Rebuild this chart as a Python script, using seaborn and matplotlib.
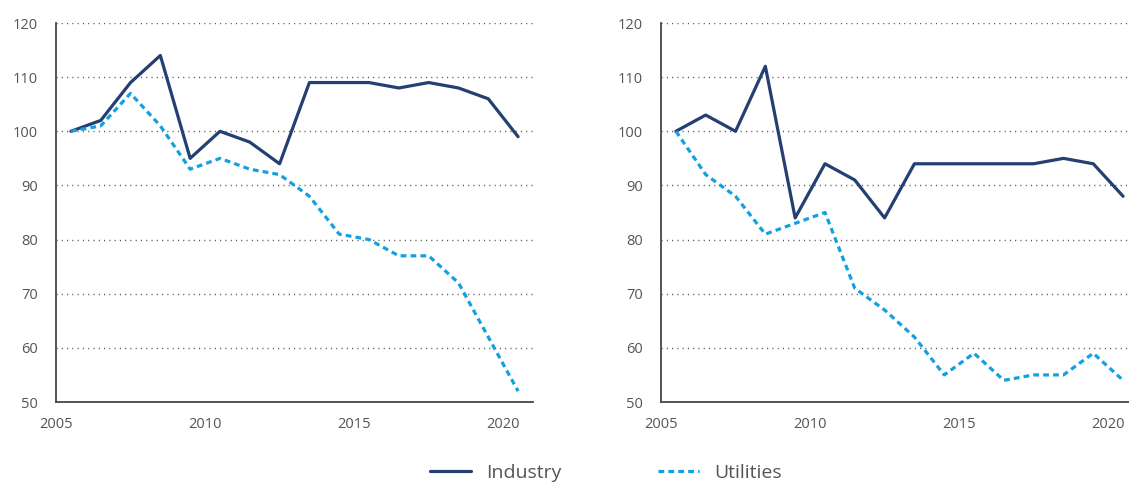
import pandas as pd
import matplotlib.pyplot as plt
import matplotlib.lines as mlines
import seaborn as sns

# Valeurs (indice, 2005 = 100), points à mi-année
years = [2005.5, 2006.5, 2007.5, 2008.5, 2009.5, 2010.5, 2011.5, 2012.5,
         2013.5, 2014.5, 2015.5, 2016.5, 2017.5, 2018.5, 2019.5, 2020.5]

left_industry = [100, 102, 109, 114, 95, 100, 98, 94,
                 109, 109, 109, 108, 109, 108, 106, 99]
left_utilities = [100, 101, 107, 101, 93, 95, 93, 92,
                  88, 81, 80, 77, 77, 72, 62, 52]

right_industry = [100, 103, 100, 112, 84, 94, 91, 84,
                  94, 94, 94, 94, 94, 95, 94, 88]
right_utilities = [100, 92, 88, 81, 83, 85, 71, 67,
                   62, 55, 59, 54, 55, 55, 59, 54]

x_ticks = [2005, 2010, 2015, 2020]
y_ticks = [50, 60, 70, 80, 90, 100, 110, 120]
series_names = ["Industry", "Utilities"]

INDUSTRY_COLOR = "#243f72"
UTILITIES_COLOR = "#12a0e0"
AXIS_COLOR = "#4a463f"
TEXT_COLOR = "#555555"
UTIL_DASH = (0, (1.8, 1.3))


def build_frame(industry, utilities):
    """Construit un tableau long pour un panneau."""
    df = pd.DataFrame({"year": years, "Industry": industry, "Utilities": utilities})
    return df.melt(id_vars="year", var_name="series", value_name="value")


def draw_panel(ax, data):
    """Trace un panneau avec les deux séries."""
    for y in y_ticks[1:]:
        ax.axhline(y, color="#555555", lw=1.0, linestyle=(0, (0.8, 3.0)), zorder=1)

    sns.lineplot(data=data[data["series"] == "Industry"], x="year", y="value",
                 ax=ax, color=INDUSTRY_COLOR, lw=2.3, zorder=3)
    sns.lineplot(data=data[data["series"] == "Utilities"], x="year", y="value",
                 ax=ax, color=UTILITIES_COLOR, lw=2.3, linestyle=UTIL_DASH, zorder=3)

    ax.set_xlim(2005, 2021)
    ax.set_ylim(50, 120)
    ax.set_xticks(x_ticks)
    ax.set_yticks(y_ticks)
    ax.set_xlabel("")
    ax.set_ylabel("")
    for side in ["top", "right"]:
        ax.spines[side].set_visible(False)
    for side in ["left", "bottom"]:
        ax.spines[side].set_color(AXIS_COLOR)
        ax.spines[side].set_linewidth(1.3)
    ax.tick_params(axis="x", direction="in", length=9, width=1.3, color=AXIS_COLOR,
                   labelcolor=TEXT_COLOR, labelsize=10.5, pad=11)
    ax.tick_params(axis="y", direction="out", length=8, width=1.3, color=AXIS_COLOR,
                   labelcolor=TEXT_COLOR, labelsize=10.5, pad=5)
    ax.set_facecolor("white")


sns.set_style("white")
plt.rcParams["font.family"] = ["Open Sans", "DejaVu Sans"]

fig = plt.figure(figsize=(11.29, 4.83), dpi=100)
W, H = 1129, 483
ax_left = fig.add_axes([56 / W, 1 - 402 / H, 477 / W, 379 / H])
ax_right = fig.add_axes([661 / W, 1 - 402 / H, 477 / W, 379 / H])

draw_panel(ax_left, build_frame(left_industry, left_utilities))
draw_panel(ax_right, build_frame(right_industry, right_utilities))

handles = [
    mlines.Line2D([], [], color=INDUSTRY_COLOR, lw=2.3),
    mlines.Line2D([], [], color=UTILITIES_COLOR, lw=2.3, linestyle=UTIL_DASH),
]
leg = fig.legend(handles, series_names, loc="center", bbox_to_anchor=(606 / W, 10 / H),
                 ncol=2, frameon=False, fontsize=14, handlelength=2.1,
                 handletextpad=0.75, columnspacing=5.0, borderpad=0)
for t in leg.get_texts():
    t.set_color(TEXT_COLOR)

fig.savefig("out.png", dpi=100)
